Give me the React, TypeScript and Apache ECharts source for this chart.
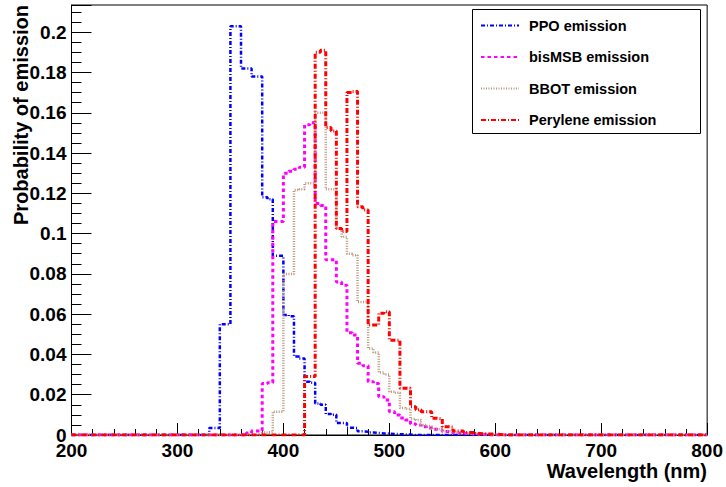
import React, { useEffect, useRef } from "react";
import * as echarts from "echarts";

// Histogram binning (nm)
const X_MIN = 200;
const X_MAX = 800;
const BIN = 5;
const Y_MAX = 0.2135;

// Probability per 5 nm bin, starting at the given wavelength (zero elsewhere)
const ppoStart = 330;
const ppoValues = [
  0.0035, 0.0035, 0.055, 0.055, 0.203, 0.203, 0.182, 0.182, 0.178, 0.178,
  0.118, 0.117, 0.089, 0.089, 0.0596, 0.059, 0.039, 0.038, 0.0265, 0.026,
  0.0157, 0.015, 0.0104, 0.01, 0.006, 0.006, 0.0036, 0.0035, 0.0018, 0.0016,
  0.0012, 0.001, 0.0008, 0.0007, 0.0005, 0.0004, 0.0003, 0.0002,
];

const bisStart = 365;
const bisValues = [
  0.001, 0.002, 0.002, 0.0256, 0.026, 0.106, 0.106, 0.13, 0.131, 0.132,
  0.133, 0.154, 0.155, 0.115, 0.114, 0.087, 0.087, 0.076, 0.0744, 0.0508,
  0.0496, 0.0356, 0.0344, 0.0265, 0.0256, 0.019, 0.0174, 0.0116, 0.0099, 0.0085,
  0.0075, 0.0055, 0.005, 0.0041, 0.0035, 0.0028, 0.0025, 0.0017, 0.0015, 0.001,
  0.0009, 0.0007, 0.0005, 0.0004, 0.0003,
];

const bbotStart = 380;
const bbotValues = [
  0.0012, 0.0015, 0.0116, 0.0116, 0.08, 0.08, 0.1216, 0.122, 0.125, 0.125,
  0.16, 0.16, 0.122, 0.122, 0.1025, 0.0984, 0.09, 0.0893, 0.066, 0.066,
  0.043, 0.041, 0.031, 0.03, 0.0215, 0.021, 0.0134, 0.013, 0.008, 0.0075,
  0.005, 0.0045, 0.003, 0.0028, 0.002, 0.0018, 0.0012, 0.001, 0.0008, 0.0006,
  0.0005, 0.0004, 0.0003,
];

const peryStart = 420;
const peryValues = [
  0.029, 0.029, 0.19, 0.191, 0.1527, 0.151, 0.1025, 0.101, 0.17, 0.1705,
  0.1133, 0.1117, 0.0546, 0.0546, 0.0604, 0.0612, 0.0471, 0.047, 0.0232, 0.0232,
  0.014, 0.0125, 0.0116, 0.0116, 0.0083, 0.008, 0.0041, 0.004, 0.002, 0.002,
  0.0013, 0.0013, 0.0008, 0.0006, 0.0005, 0.0004, 0.0003,
];

const seriesNames = ["PPO emission", "bisMSB emission", "BBOT emission", "Perylene emission"];
const xTickLabels = ["200", "300", "400", "500", "600", "700", "800"];

function histData(start: number, values: number[]): [number, number][] {
  const pts: [number, number][] = [];
  for (let e = X_MIN; e < X_MAX; e += BIN) {
    const i = Math.round((e - start) / BIN);
    pts.push([e, i >= 0 && i < values.length ? values[i] : 0]);
  }
  pts.push([X_MAX, pts[pts.length - 1][1]]);
  return pts;
}

const FONT = "'Liberation Sans', Arial, Helvetica, sans-serif";

export default function App() {
  const ref = useRef<HTMLDivElement>(null);
  useEffect(() => {
    document.body.style.margin = "0";
    const chart = echarts.init(ref.current!, null, { renderer: "svg" });
    const mk = (name: string, data: [number, number][], color: string, width: number, dash: number[]) => ({
      name,
      type: "line",
      step: "end",
      data,
      symbol: "none",
      showSymbol: false,
      lineStyle: { color, width, type: dash },
      itemStyle: { color },
    });
    chart.setOption({
      animation: false,
      grid: { left: 71.5, right: 18.5, top: 5, bottom: 52, show: true, borderColor: "#000", borderWidth: 1, backgroundColor: "transparent" },
      xAxis: {
        type: "value",
        min: X_MIN,
        max: X_MAX,
        interval: 100,
        axisLine: { show: true, onZero: false, lineStyle: { color: "#000", width: 1 } },
        axisTick: { show: true, inside: true, length: 12, lineStyle: { color: "#000" } },
        minorTick: { show: true, splitNumber: 5, length: 6, lineStyle: { color: "#000" } },
        splitLine: { show: false },
        axisLabel: {
          margin: 6,
          color: "#000",
          fontFamily: FONT,
          fontWeight: "bold",
          fontSize: 19,
          formatter: (v: number) => {
            const s = String(Math.round(v));
            return xTickLabels.includes(s) ? s : "";
          },
        },
      },
      yAxis: {
        type: "value",
        min: 0,
        max: Y_MAX,
        interval: 0.02,
        axisLine: { show: true, lineStyle: { color: "#000", width: 1 } },
        axisTick: { show: true, inside: true, length: 20, lineStyle: { color: "#000" } },
        minorTick: { show: true, splitNumber: 4, length: 10, lineStyle: { color: "#000" } },
        splitLine: { show: false },
        axisLabel: {
          margin: 5,
          color: "#000",
          fontFamily: FONT,
          fontWeight: "bold",
          fontSize: 19,
          showMaxLabel: false,
          formatter: (v: number) => {
            const k = v / 0.02;
            if (Math.abs(k - Math.round(k)) > 1e-6) return "";
            return String(parseFloat(v.toFixed(3)));
          },
        },
      },
      legend: {
        show: true,
        orient: "vertical",
        left: 480,
        top: 18,
        padding: 0,
        itemWidth: 38,
        itemHeight: 14,
        itemGap: 16.5,
        data: seriesNames,
        itemStyle: { opacity: 0, borderWidth: 0 },
        textStyle: { fontFamily: FONT, fontWeight: "bold", fontSize: 14.5, color: "#000", lineHeight: 14, padding: [0, 0, 0, 5] },
        z: 10,
      },
      graphic: [
        {
          type: "rect",
          z: 5,
          shape: { x: 472.5, y: 9.5, width: 228, height: 124 },
          style: { fill: "#fff", stroke: "#000", lineWidth: 1 },
        },
        {
          type: "text",
          x: 707,
          y: 471,
          style: {
            text: "Wavelength (nm)",
            fill: "#000",
            font: `bold 20px ${FONT}`,
            textAlign: "right",
            textVerticalAlign: "middle",
          },
        },
        {
          type: "text",
          x: 21,
          y: 5,
          rotation: Math.PI / 2,
          style: {
            text: "Probability of emission",
            fill: "#000",
            font: `bold 20px ${FONT}`,
            textAlign: "right",
            textVerticalAlign: "middle",
          },
        },
      ],
      series: [
        mk(seriesNames[0], histData(ppoStart, ppoValues), "#0000ff", 2.5, [4, 2, 1, 2]),
        mk(seriesNames[1], histData(bisStart, bisValues), "#ff00ff", 3, [3.5, 3]),
        mk(seriesNames[2], histData(bbotStart, bbotValues), "#b8967a", 2.5, [1, 1.5]),
        mk(seriesNames[3], histData(peryStart, peryValues), "#ff0000", 3, [5, 2, 1, 2]),
      ],
    });
    return () => chart.dispose();
  }, []);
  return <div ref={ref} style={{ width: 726, height: 487 }} />;
}
